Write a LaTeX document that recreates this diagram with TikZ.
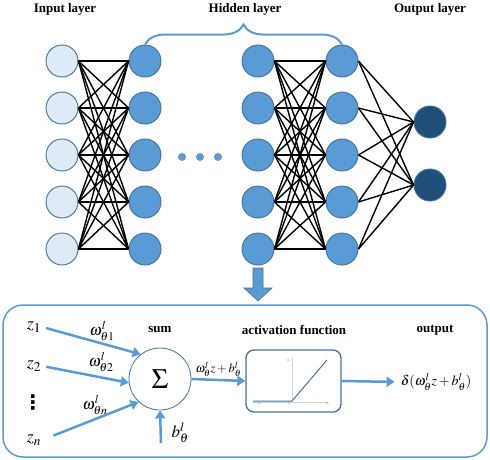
\documentclass[tikz,border=0pt]{standalone}
\usepackage{mathptmx}
\usepackage{fontspec}
\setmainfont{Liberation Serif}
\newfontfamily\symfont{DejaVu Sans}
\usetikzlibrary{arrows.meta,decorations.pathreplacing}
\definecolor{inFill}{HTML}{DEEBF7}
\definecolor{hidFill}{HTML}{5B9BD5}
\definecolor{outFill}{HTML}{1F4E79}
\definecolor{ringBlue}{HTML}{41719C}
\definecolor{lineBlue}{HTML}{5B9BD5}
\tikzset{
  unit/.style={circle, minimum size=32pt, inner sep=0pt, line width=0.9pt, draw=ringBlue},
  inunit/.style={unit, fill=inFill},
  hidunit/.style={unit, fill=hidFill},
  outunit/.style={unit, fill=outFill},
  dotunit/.style={circle, minimum size=8pt, inner sep=0pt, fill=hidFill},
  link/.style={black, line width=1.4pt},
  title/.style={font=\fontsize{13}{15}\selectfont\bfseries},
  mathlab/.style={font=\fontsize{16}{18}\selectfont, inner sep=1pt},
  zlab/.style={font=\fontsize{18}{20}\selectfont, inner sep=1pt},
  flow/.style={draw=lineBlue, line width=2.5pt, -{Triangle[length=8pt,width=10pt]}},
  tick/.style={font=\fontsize{3}{3}\selectfont, inner sep=0.5pt, gray},
}
\begin{document}
\begin{tikzpicture}[x=1pt,y=-1pt]
\useasboundingbox (0,0) rectangle (490,460);
\node[title] (tin) at (65,9) {Input layer};
\node[title] (thid) at (245,9) {Hidden layer};
\node[title] (tout) at (430,9) {Output layer};
\foreach \i/\y in {1/61,2/108,3/155,4/202,5/249}{
  \node[inunit] (in\i) at (62,\y) {};
  \node[hidunit] (ha\i) at (145,\y) {};
  \node[hidunit] (hb\i) at (258,\y) {};
  \node[hidunit] (hc\i) at (342,\y) {};
}
\node[outunit] (out1) at (430,122) {};
\node[outunit] (out2) at (430,185) {};
\foreach \i in {1,...,5}{
  \foreach \j in {1,...,5}{
    \draw[link] (in\i.east) -- (ha\j.west);
    \draw[link] (hb\i.east) -- (hc\j.west);
  }
  \draw[link] (hc\i.east) -- (out1.west);
  \draw[link] (hc\i.east) -- (out2.west);
}
\foreach \k/\x in {1/182,2/200,3/218}
  \node[dotunit] (dot\k) at (\x,157) {};
\draw[lineBlue, line width=2pt, decorate, decoration={brace, amplitude=20pt}] (ha1.north) -- (hc1.north);
\fill[hidFill, draw=ringBlue, line width=0.6pt] (253,268) -- (263,268) -- (263,288) -- (272,288) -- (258,301) -- (244,288) -- (253,288) -- cycle;
\draw[lineBlue, line width=1.5pt, rounded corners=20pt] (3,305) rectangle (487,457);
\node[zlab] (z1) at (34,327) {$z_1$};
\node[zlab] (z2) at (34,366) {$z_2$};
\node[font=\symfont\bfseries\fontsize{20}{20}\selectfont, inner sep=0pt] (zdots) at (33,403) {⋮};
\node[zlab] (zn) at (34,440) {$z_n$};
\node[circle, draw=ringBlue, line width=0.8pt, minimum size=62pt, inner sep=0pt, font=\fontsize{28}{30}\selectfont] (sum) at (160,379) {$\Sigma$};
\node[title] (tsum) at (160,330) {sum};
\node[title] (tact) at (294,330) {activation function};
\node[title] (toutput) at (435,330) {output};
\node[draw=ringBlue, line width=1.3pt, rounded corners=8pt, minimum width=95pt, minimum height=62pt] (act) at (293.5,381) {};
\node[mathlab] (w1) at (102,331) {$\omega^l_{\theta 1}$};
\node[mathlab] (w2) at (101,362) {$\omega^l_{\theta 2}$};
\node[mathlab] (wn) at (95,405) {$\omega^l_{\theta n}$};
\node[mathlab, font=\fontsize{17}{19}\selectfont] (bias) at (180,433) {$b^l_\theta$};
\node[mathlab, font=\fontsize{14}{16}\selectfont] (res) at (436,382) {$\delta(\omega^l_\theta z+b^l_\theta)$};
\coordinate (bfoot) at (161,443);
\draw[flow, shorten <=4pt] (z1.east) -- (sum.128);
\draw[flow, shorten <=4pt] (z2.east) -- (sum.187);
\draw[flow, shorten <=12pt] (zn.east) -- (sum.227);
\draw[flow] (bfoot) -- (sum.south);
\draw[flow] (sum.east) -- node[above=1pt, font=\fontsize{12.5}{14}\selectfont, inner sep=1pt] {$\omega^l_\theta z+b^l_\theta$} (act.west);
\draw[flow, shorten >=5pt] (act.east) -- (res.west);
\draw[gray!35, line width=0.8pt] (253,402) -- (328,402);
\draw[gray!35, line width=0.4pt] (292,358) -- (292,402);
\draw[ringBlue, line width=1pt] (253,401) -- (292,401) -- (327,360);
\node[tick] (tk1) at (258,404) {$-10$};
\node[tick] (tk2) at (289,404) {0};
\node[tick] (tk3) at (327,404) {10};
\node[tick] (tk4) at (288,361) {10};
\end{tikzpicture}
\end{document}
